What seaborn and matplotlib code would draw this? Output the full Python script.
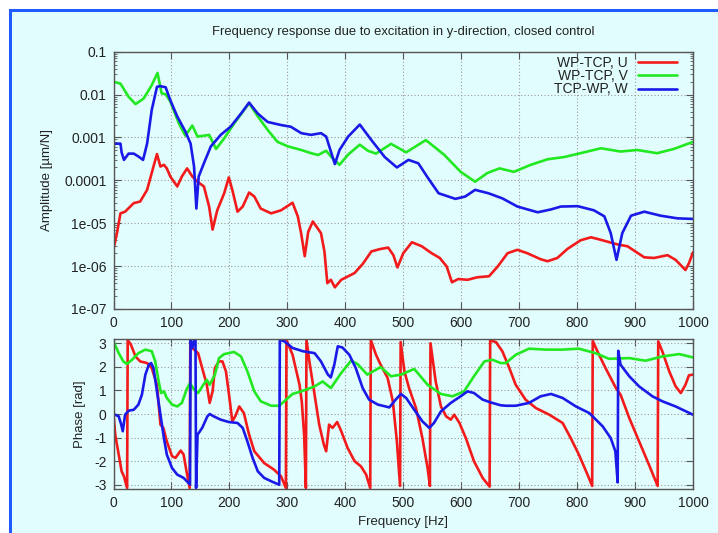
import numpy as np
import pandas as pd
import matplotlib
matplotlib.use("Agg")
import matplotlib.pyplot as plt
import seaborn as sns
from matplotlib.patches import Rectangle
from matplotlib.ticker import FixedLocator, FixedFormatter, LogLocator, NullFormatter

# ---------------- data ----------------
series_names = ["WP-TCP, U", "WP-TCP, V", "TCP-WP, W"]
series_colors = ["#f21a1a", "#22e822", "#1a1ae8"]

title_text = "Frequency response due to excitation in y-direction, closed control"
amp_ylabel = "Amplitude [\u00b5m/N]"
phase_ylabel = "Phase [rad]"
freq_xlabel = "Frequency [Hz]"

freq_ticks = [0, 100, 200, 300, 400, 500, 600, 700, 800, 900, 1000]
amp_ticks = [1e-7, 1e-6, 1e-5, 1e-4, 1e-3, 1e-2, 1e-1]
amp_tick_labels = ["1e-07", "1e-06", "1e-05", "0.0001", "0.001", "0.01", "0.1"]
phase_ticks = [-3, -2, -1, 0, 1, 2, 3]
phase_tick_labels = ["-3", "-2", "-1", "0", "1", "2", "3"]

# amplitude, U
u_amp_freq = [0, 6, 12, 20, 35, 46, 58, 69, 75, 81,
              87, 92, 98, 110, 118, 127, 136, 145, 156, 165,
              171, 179, 191, 199, 205, 214, 223, 234, 243, 254,
              272, 289, 309, 318, 324, 330, 336, 344, 358, 364,
              369, 375, 382, 393, 416, 430, 445, 460, 474, 483,
              490, 500, 515, 532, 549, 563, 575, 584, 595, 611,
              628, 648, 663, 680, 697, 714, 737, 749, 766, 783,
              806, 824, 841, 870, 887, 916, 933, 956, 970, 987,
              993, 1000]
u_amp = [2.5e-6, 5.9e-6, 1.7e-5, 1.86e-5, 2.95e-5, 3.2e-5, 6.0e-5, 2.1e-4, 4.1e-4, 2.1e-4,
         2.3e-4, 1.9e-4, 1.23e-4, 7.2e-5, 1.23e-4, 1.9e-4, 1.23e-4, 9.3e-5, 7.2e-5, 2.45e-5,
         7.1e-6, 2.0e-5, 5.0e-5, 1.17e-4, 6.0e-5, 1.86e-5, 2.45e-5, 5.2e-5, 4.2e-5, 2.2e-5,
         1.7e-5, 2.0e-5, 3.0e-5, 1.45e-5, 5.6e-6, 1.7e-6, 6.3e-6, 1.1e-5, 5.9e-6, 2.2e-6,
         4.0e-7, 4.8e-7, 3.2e-7, 4.8e-7, 6.9e-7, 1.12e-6, 2.2e-6, 2.5e-6, 2.7e-6, 1.8e-6,
         9.3e-7, 2.0e-6, 3.6e-6, 2.9e-6, 2.0e-6, 1.55e-6, 9.8e-7, 4.2e-7, 5.0e-7, 4.8e-7,
         5.5e-7, 5.8e-7, 9.8e-7, 2.0e-6, 2.4e-6, 2.0e-6, 1.45e-6, 1.3e-6, 1.55e-6, 2.5e-6,
         4.0e-6, 4.7e-6, 4.1e-6, 3.2e-6, 2.9e-6, 1.6e-6, 1.55e-6, 1.8e-6, 1.4e-6, 8.1e-7,
         1.17e-6, 2.1e-6]

# amplitude, V
v_amp_freq = [0, 12, 26, 38, 52, 66, 76, 83, 90, 98,
              113, 124, 136, 145, 156, 165, 177, 191, 208, 234,
              249, 266, 283, 301, 324, 341, 353, 367, 376, 390,
              405, 425, 439, 453, 479, 505, 539, 571, 599, 624,
              645, 666, 691, 720, 749, 778, 806, 841, 875, 904,
              938, 967, 1000]
v_amp = [0.020, 0.018, 0.0089, 0.0060, 0.0081, 0.0166, 0.032, 0.0107, 0.0102, 0.0069,
         0.0021, 0.0011, 0.0019, 0.00105, 0.0011, 0.00115, 0.00054, 0.00095, 0.0021, 0.0063,
         0.0031, 0.0015, 0.00079, 0.00062, 0.00051, 0.00043, 0.00039, 0.00049, 0.00035, 0.00023,
         0.00040, 0.00068, 0.00049, 0.00042, 0.00071, 0.00045, 0.00087, 0.00039, 0.000158, 0.000093,
         0.000148, 0.00019, 0.000158, 0.00023, 0.00031, 0.00035, 0.00043, 0.00056, 0.00047, 0.00051,
         0.00043, 0.00054, 0.00079]

# amplitude, W
w_amp_freq = [0, 12, 14, 18, 26, 35, 43, 51, 58, 66,
              75, 80, 90, 98, 110, 124, 133, 139, 143, 147,
              156, 168, 185, 202, 220, 234, 249, 266, 289, 306,
              324, 341, 358, 367, 376, 382, 390, 405, 425, 445,
              468, 489, 509, 526, 543, 561, 590, 607, 624, 647,
              671, 697, 732, 755, 772, 801, 829, 847, 858, 868,
              878, 893, 916, 944, 973, 1000]
w_amp = [7.1e-4, 7.2e-4, 4.5e-4, 3.0e-4, 4.2e-4, 4.2e-4, 3.6e-4, 3.0e-4, 7.2e-4, 4.4e-3,
         0.0151, 0.0158, 0.0148, 0.0074, 0.0031, 0.00138, 0.00072, 0.00021, 2.2e-5, 1.23e-4,
         2.5e-4, 6.2e-4, 1.15e-3, 1.78e-3, 3.6e-3, 6.5e-3, 3.6e-3, 2.3e-3, 1.95e-3, 1.78e-3,
         1.26e-3, 1.15e-3, 1.26e-3, 1.05e-3, 4.3e-4, 2.4e-4, 5.1e-4, 1.05e-3, 2.0e-3, 8.7e-4,
         3.5e-4, 2.0e-4, 3.0e-4, 2.5e-4, 1.12e-4, 5.0e-5, 3.7e-5, 4.2e-5, 6.0e-5, 5.0e-5,
         3.8e-5, 2.45e-5, 1.8e-5, 2.1e-5, 2.45e-5, 2.5e-5, 2.0e-5, 1.45e-5, 5.9e-6, 1.4e-6,
         5.9e-6, 1.5e-5, 1.86e-5, 1.5e-5, 1.3e-5, 1.26e-5]

# phase, U
u_ph_freq = [0, 3, 7, 10, 14, 18, 23.5, 24.5, 30, 38,
             46, 58, 66, 75, 81, 86, 92, 101, 107, 116,
             121, 127, 131.5, 132.5, 136, 146, 153, 161, 166, 171,
             175, 182, 188, 194, 199, 205, 210, 217, 225, 234,
             243, 260, 277, 289, 297.5, 298.5, 309, 321, 325, 329,
             332, 333, 338, 347, 355, 363, 367, 372, 378, 386,
             393, 404, 416, 427, 436, 443, 444, 453, 461, 473,
             482, 489, 494.5, 495.5, 502, 510, 522, 533, 542, 546,
             547, 556, 565, 574, 582, 588, 597, 608, 622, 637,
             649, 650, 660, 671, 683, 694, 711, 729, 752, 775,
             789, 803, 818, 826, 827, 835, 849, 867, 875, 890,
             907, 924, 939, 940, 947, 959, 970, 979, 987, 993,
             1000]
u_ph = [0.0, -0.88, -1.44, -1.86, -2.43, -2.64, -3.14, 3.14, 2.94, 2.44,
        2.23, 2.16, 1.95, 1.24, -0.45, -0.59, -1.16, -1.79, -1.86, -1.55,
        -1.72, -2.57, -3.14, 3.14, 2.80, 2.58, 1.95, 1.24, 0.47, 0.96,
        1.95, 2.23, 2.23, 1.81, 0.89, -0.31, -0.10, 0.32, 0.04, -0.88,
        -1.58, -2.08, -2.36, -2.64, -3.14, 3.14, 2.51, 1.24, 0.5, -0.9,
        -3.14, 3.14, 2.23, 0.82, -0.45, -1.30, -1.58, -0.45, -0.59, -0.34,
        -0.73, -1.44, -2.0, -2.22, -2.57, -3.14, 3.14, 2.51, 2.09, 1.53,
        0.54, -1.16, -3.05, 3.05, 1.81, 1.10, 0.25, -1.02, -2.29, -3.05,
        3.0, 1.38, 0.32, -0.10, -0.24, -0.03, -0.38, -1.02, -2.0, -2.71,
        -3.08, 3.12, 3.05, 2.66, 1.95, 1.24, 0.61, 0.25, -0.03, -0.38,
        -1.02, -1.72, -2.57, -3.05, 3.1, 2.66, 1.95, 1.10, 0.82, -0.17,
        -1.16, -2.15, -3.05, 3.08, 2.66, 1.81, 1.17, 0.89, 1.24, 1.64,
        1.67]

# phase, V
v_ph_freq = [0, 9, 17, 23, 32, 43, 55, 66, 72, 78,
             82, 87, 92, 101, 110, 118, 126, 132, 139, 146,
             155, 161, 166, 175, 182, 191, 208, 220, 231, 243,
             254, 272, 286, 298, 309, 324, 347, 361, 375, 393,
             410, 421, 438, 461, 479, 496, 519, 542, 565, 585,
             605, 622, 640, 654, 668, 677, 694, 717, 746, 775,
             803, 832, 855, 890, 918, 947, 976, 1000]
v_ph = [3.08, 2.58, 2.23, 2.12, 2.30, 2.58, 2.73, 2.66, 2.23, 1.38,
        0.89, 0.96, 0.68, 0.40, 0.32, 0.47, 1.03, 1.31, 1.03, 0.89,
        1.24, 1.45, 1.24, 1.67, 2.37, 2.54, 2.63, 2.44, 1.81, 0.96,
        0.54, 0.35, 0.35, 0.61, 0.85, 0.96, 1.17, 1.38, 1.10, 1.74,
        2.26, 2.12, 1.67, 1.99, 1.60, 1.67, 1.91, 1.24, 0.85, 0.75,
        0.96, 1.60, 2.23, 2.30, 2.16, 2.16, 2.51, 2.77, 2.73, 2.73,
        2.77, 2.58, 2.34, 2.37, 2.26, 2.44, 2.54, 2.40]

# phase, W
w_ph_freq = [0, 9, 13, 16, 20, 26, 35, 43, 49, 55,
             61, 65, 69, 75, 81, 87, 92, 101, 110, 121,
             132, 133, 136, 139, 141.5, 142.5, 145, 153, 162, 166,
             173, 185, 199, 214, 223, 231, 240, 249, 260, 272,
             286, 287, 295, 309, 327, 347, 358, 370, 375, 381,
             387, 395, 407, 418, 430, 441, 456, 476, 487, 496,
             505, 519, 533, 545, 553, 565, 582, 599, 611, 622,
             637, 651, 668, 677, 694, 717, 737, 755, 775, 798,
             821, 844, 858, 866, 870, 871, 875, 890, 907, 930,
             947, 970, 1000]
w_ph = [0.0, -0.10, -0.42, -0.73, -0.03, 0.14, 0.18, 0.40, 0.82, 1.67,
        2.09, 2.16, 1.95, 0.96, -0.03, -1.02, -1.72, -2.29, -2.57, -2.71,
        -2.99, 3.14, 2.80, 3.14, 3.14, -3.14, -0.88, -0.59, -0.10, 0.0,
        -0.10, -0.24, -0.34, -0.38, -0.59, -1.16, -1.86, -2.43, -2.71, -2.85,
        -3.0, 3.14, 3.08, 2.80, 2.66, 2.58, 2.23, 1.67, 1.55, 2.09,
        2.87, 2.82, 2.51, 1.95, 1.10, 0.61, 0.40, 0.28, 0.61, 0.85,
        0.68, 0.18, -0.31, -0.59, -0.38, 0.11, 0.47, 0.75, 0.96, 0.89,
        0.61, 0.49, 0.37, 0.35, 0.35, 0.47, 0.75, 0.85, 0.68, 0.32,
        0.04, -0.52, -1.02, -1.58, -2.9, 2.68, 2.09, 1.60, 1.17, 0.75,
        0.54, 0.32, -0.03]

# ---------------- style ----------------
sns.set_style("ticks")
plt.rcParams["font.family"] = ["Liberation Sans", "DejaVu Sans"]
plt.rcParams["axes.unicode_minus"] = False

bg = "#e2fdfd"
W, H = 718, 533
fig = plt.figure(figsize=(W / 100, H / 100), dpi=100, facecolor=bg)

# frame decoration (white margin + blue border)
fig.patches.append(Rectangle((0, 1 - 9 / H), 1, 9 / H, transform=fig.transFigure,
                             facecolor="white", edgecolor="none", zorder=0))
fig.patches.append(Rectangle((0, 0), 9 / W, 1, transform=fig.transFigure,
                             facecolor="white", edgecolor="none", zorder=0))
fig.patches.append(Rectangle((9 / W, 0), 3.3 / W, 1 - 9 / H, transform=fig.transFigure,
                             facecolor="#1f5cff", edgecolor="none", zorder=1))
fig.patches.append(Rectangle((9 / W, 1 - 12.3 / H), 1 - 9 / W, 3.3 / H, transform=fig.transFigure,
                             facecolor="#1f5cff", edgecolor="none", zorder=1))

ax1 = fig.add_axes([113.5 / W, (H - 309) / H, 579.5 / W, 257.3 / H])
ax2 = fig.add_axes([113.5 / W, (H - 489) / H, 579.5 / W, 150 / H])

palette = dict(zip(series_names, series_colors))

amp_df = pd.concat([
    pd.DataFrame({"f": u_amp_freq, "a": u_amp, "s": series_names[0]}),
    pd.DataFrame({"f": v_amp_freq, "a": v_amp, "s": series_names[1]}),
    pd.DataFrame({"f": w_amp_freq, "a": w_amp, "s": series_names[2]}),
], ignore_index=True)
ph_df = pd.concat([
    pd.DataFrame({"f": u_ph_freq, "p": u_ph, "s": series_names[0]}),
    pd.DataFrame({"f": v_ph_freq, "p": v_ph, "s": series_names[1]}),
    pd.DataFrame({"f": w_ph_freq, "p": w_ph, "s": series_names[2]}),
], ignore_index=True)

lw = 1.9
sns.lineplot(data=amp_df, x="f", y="a", hue="s", palette=palette, hue_order=series_names,
             estimator=None, sort=False, lw=lw, ax=ax1)
sns.lineplot(data=ph_df, x="f", y="p", hue="s", palette=palette, hue_order=series_names,
             estimator=None, sort=False, lw=lw, ax=ax2, legend=False)

spine_c = "#555555"
for ax in (ax1, ax2):
    ax.set_facecolor(bg)
    ax.set_xlim(0, 1000)
    ax.xaxis.set_major_locator(FixedLocator(freq_ticks))
    ax.grid(True, which="major", linestyle=(0, (1, 2)), color="#9a9a9a", linewidth=0.8)
    ax.tick_params(which="both", direction="in", top=True, right=True, color=spine_c,
                   labelsize=10, labelcolor="#222222", pad=5)
    ax.tick_params(which="major", length=5)
    ax.tick_params(which="minor", length=2.5)
    for sp in ax.spines.values():
        sp.set_color(spine_c)
        sp.set_linewidth(1.0)
    ax.set_axisbelow(True)

ax1.set_yscale("log")
ax1.set_ylim(1e-7, 1e-1)
ax1.yaxis.set_major_locator(FixedLocator(amp_ticks))
ax1.yaxis.set_major_formatter(FixedFormatter(amp_tick_labels))
ax1.yaxis.set_minor_locator(LogLocator(base=10, subs=[2, 3, 4, 5, 6, 7, 8, 9]))
ax1.yaxis.set_minor_formatter(NullFormatter())
ax1.set_xlabel("")
ax1.set_ylabel(amp_ylabel, fontsize=9.5, color="#222222", labelpad=8)

ax2.set_ylim(-3.18, 3.18)
ax2.yaxis.set_major_locator(FixedLocator(phase_ticks))
ax2.yaxis.set_major_formatter(FixedFormatter(phase_tick_labels))
ax2.set_xlabel(freq_xlabel, fontsize=9.5, color="#222222", labelpad=4)
ax2.set_ylabel(phase_ylabel, fontsize=9.5, color="#222222", labelpad=6)

fig.text(403 / W, (H - 32) / H, title_text, ha="center", va="center",
         fontsize=9.4, color="#222222")

leg = ax1.legend(loc="upper right", bbox_to_anchor=(0.979, 1.0), frameon=False,
                 markerfirst=False, fontsize=10, handlelength=2.78, handletextpad=0.74,
                 labelspacing=-0.05, borderpad=0.3, borderaxespad=0.0)
for t in leg.get_texts():
    t.set_color("#222222")

fig.savefig("out.png", dpi=100, facecolor=bg)
